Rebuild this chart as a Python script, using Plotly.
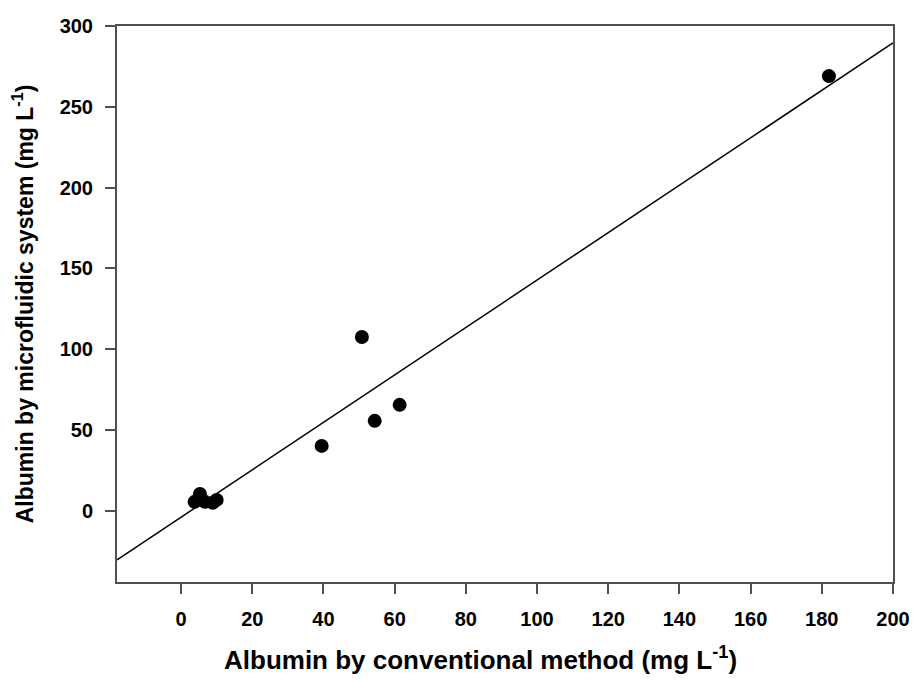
import plotly.graph_objects as go

# Data
conventional = [3.8, 5.3, 6.7, 8.9, 10.0, 39.5, 50.8, 54.4, 61.4, 182.0]
microfluidic = [5.6, 10.5, 5.6, 5.0, 6.8, 40.2, 107.6, 55.7, 65.6, 269.0]

# Regression line parameters
fit_slope = 1.467
fit_intercept = -3.9

x_range = [-18, 200]
y_range = [-44, 300]
x_ticks = [0, 20, 40, 60, 80, 100, 120, 140, 160, 180, 200]
y_ticks = [0, 50, 100, 150, 200, 250, 300]

x_title = "Albumin by conventional method (mg L<sup>-1</sup>)"
y_title = "Albumin by microfluidic system (mg L<sup>-1</sup>)"

line_x = list(x_range)
line_y = [fit_slope * v + fit_intercept for v in line_x]

FONT = "Liberation Sans, Arial, sans-serif"

fig = go.Figure()
fig.add_trace(go.Scatter(x=line_x, y=line_y, mode="lines",
                         line=dict(color="black", width=1.5), showlegend=False,
                         hoverinfo="skip"))
fig.add_trace(go.Scatter(x=conventional, y=microfluidic, mode="markers",
                         marker=dict(color="black", size=14), showlegend=False))

axis_common = dict(showgrid=False, zeroline=False, showline=True, mirror=True,
                   linecolor="#505050", linewidth=2, ticks="outside", ticklen=10,
                   tickwidth=2, tickcolor="#505050", automargin=False,
                   tickfont=dict(family=FONT, size=20, color="black", weight="bold"))

fig.update_layout(
    width=914, height=680,
    margin=dict(l=117, r=21, t=26, b=98),
    paper_bgcolor="white", plot_bgcolor="white",
    xaxis=dict(range=x_range, tickvals=x_ticks, ticklabelstandoff=8, **axis_common),
    yaxis=dict(range=y_range, tickvals=y_ticks, ticklabelstandoff=8,
               title=dict(text=y_title,
                          font=dict(family=FONT, size=23, color="black", weight="bold"),
                          standoff=20),
               **axis_common),
    annotations=[dict(text=x_title, xref="paper", yref="paper",
                      x=0.468, y=-0.138, xanchor="center", yanchor="middle",
                      showarrow=False,
                      font=dict(family=FONT, size=26, color="black", weight="bold"))],
)

fig.write_html("out.html")
